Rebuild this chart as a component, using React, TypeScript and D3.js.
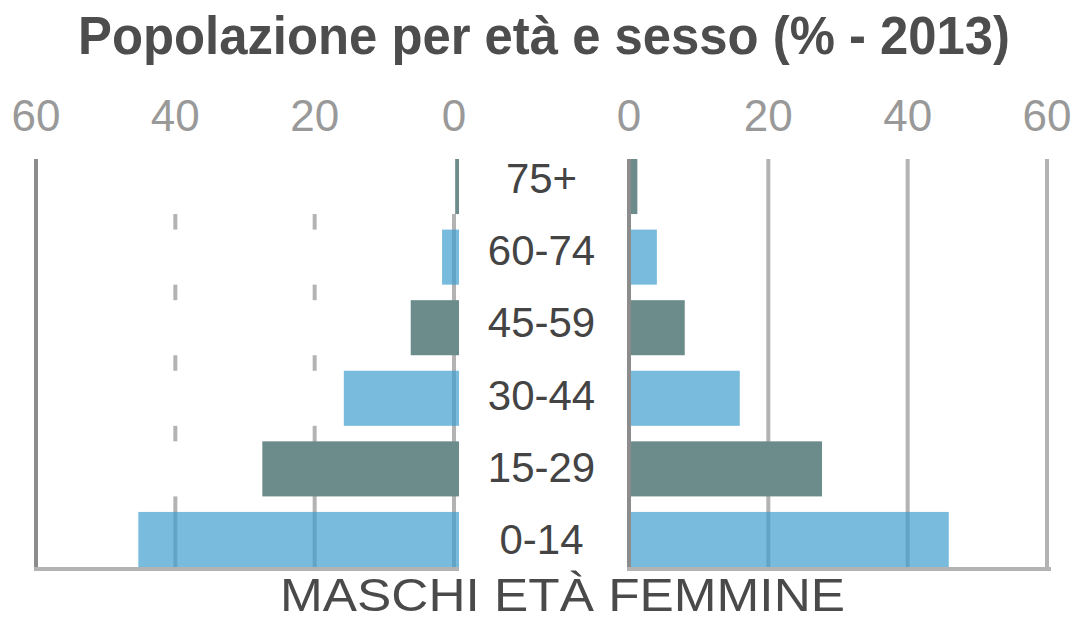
import React from "react";
import * as d3 from "d3";

const ages = ["0-14", "15-29", "30-44", "45-59", "60-74", "75+"];
const maschi = [45.6, 27.8, 16.1, 6.5, 2.0, 0.1];
const femmine = [45.9, 27.7, 15.9, 8.0, 4.0, 1.2];
const barColors = ["blue", "teal", "blue", "teal", "blue", "teal"];
const ticks = [0, 20, 40, 60];
const title = "Popolazione per età e sesso (% - 2013)";
const bottomLabel = "MASCHI ETÀ FEMMINE";

const W = 1076;
const H = 621;
const BLUE = "rgb(62,158,206)";
const BLUE_OP = 0.7;
const TEAL = "#6c8b8b";
const GRID = "#b3b3b3";
const AXIS = "#8c8c8c";
const FONT = "'Liberation Sans', Arial, sans-serif";

export default function App() {
  const order = [...ages].reverse();
  const xL = d3.scaleLinear().domain([0, 60]).range([454, 36]);
  const xR = d3.scaleLinear().domain([0, 60]).range([629, 1047]);
  const y = d3.scaleBand().domain(order).range([159, 567]).paddingInner(0.22).paddingOuter(0);
  const yLab = d3.scalePoint().domain(order).range([193, 554]);
  const gridTop = 159;
  const gridBot = 571;
  const maleEnd = xL(0) + 5;
  const femStart = xR(0) + 2;

  return (
    <svg width={W} height={H} style={{ position: "absolute", left: 0, top: 0, background: "#fff" }}>
      <rect x={0} y={0} width={W} height={H} fill="#fff" />
      {/* right gridlines */}
      {ticks.filter((t) => t > 0).map((t) => (
        <line key={"rg" + t} x1={xR(t)} x2={xR(t)} y1={gridTop} y2={gridBot} stroke={GRID} strokeWidth={4} />
      ))}
      {/* left gridlines */}
      {ticks.filter((t) => t < 60).map((t) => (
        <line key={"lg" + t} x1={xL(t)} x2={xL(t)} y1={gridTop} y2={gridBot} stroke={GRID} strokeWidth={4} />
      ))}
      {/* left row masks */}
      {ages.map((a, i) => (
        <rect key={"m" + a} x={xL(60) + 2} y={y(a)} width={Math.max(0, xL(maschi[i]) + 2 - (xL(60) + 2))} height={y.bandwidth()} fill="#fff" />
      ))}
      {/* male bars */}
      {ages.map((a, i) => (
        <rect
          key={"mb" + a}
          x={xL(maschi[i]) + 2}
          y={y(a)}
          width={maleEnd - (xL(maschi[i]) + 2)}
          height={y.bandwidth()}
          fill={barColors[i] === "blue" ? BLUE : TEAL}
          fillOpacity={barColors[i] === "blue" ? BLUE_OP : 1}
        />
      ))}
      {/* female bars */}
      {ages.map((a, i) => (
        <rect
          key={"fb" + a}
          x={femStart}
          y={y(a)}
          width={xR(femmine[i]) - femStart}
          height={y.bandwidth()}
          fill={barColors[i] === "blue" ? BLUE : TEAL}
          fillOpacity={barColors[i] === "blue" ? BLUE_OP : 1}
        />
      ))}
      {/* axis lines */}
      <line x1={xL(60)} x2={xL(60)} y1={gridTop} y2={gridBot} stroke={AXIS} strokeWidth={4} />
      <line x1={xR(0)} x2={xR(0)} y1={gridTop} y2={gridBot} stroke={AXIS} strokeWidth={4} />
      <line x1={xL(60) - 2} x2={maleEnd} y1={569} y2={569} stroke={GRID} strokeWidth={4} />
      <line x1={xR(0) - 2} x2={xR(60) + 4} y1={569} y2={569} stroke={GRID} strokeWidth={4} />
      {/* tick labels */}
      {ticks.map((t) => (
        <text key={"lt" + t} x={xL(t)} y={131} textAnchor="middle" fontFamily={FONT} fontSize={44} fill="#999">
          {t}
        </text>
      ))}
      {ticks.map((t) => (
        <text key={"rt" + t} x={xR(t)} y={131} textAnchor="middle" fontFamily={FONT} fontSize={44} fill="#999">
          {t}
        </text>
      ))}
      {/* age labels */}
      {ages.map((a) => (
        <text key={"al" + a} x={541.5} y={yLab(a)} textAnchor="middle" fontFamily={FONT} fontSize={42} fill="#444">
          {a}
        </text>
      ))}
      {/* title */}
      <text x={78} y={54} fontFamily={FONT} fontSize={54} fontWeight="bold" fill="#4d4d4d" textLength={932} lengthAdjust="spacingAndGlyphs">
        {title}
      </text>
      {/* bottom label */}
      <text x={280} y={611} fontFamily={FONT} fontSize={46} fill="#4a4a4a" textLength={565} lengthAdjust="spacingAndGlyphs">
        {bottomLabel}
      </text>
    </svg>
  );
}
